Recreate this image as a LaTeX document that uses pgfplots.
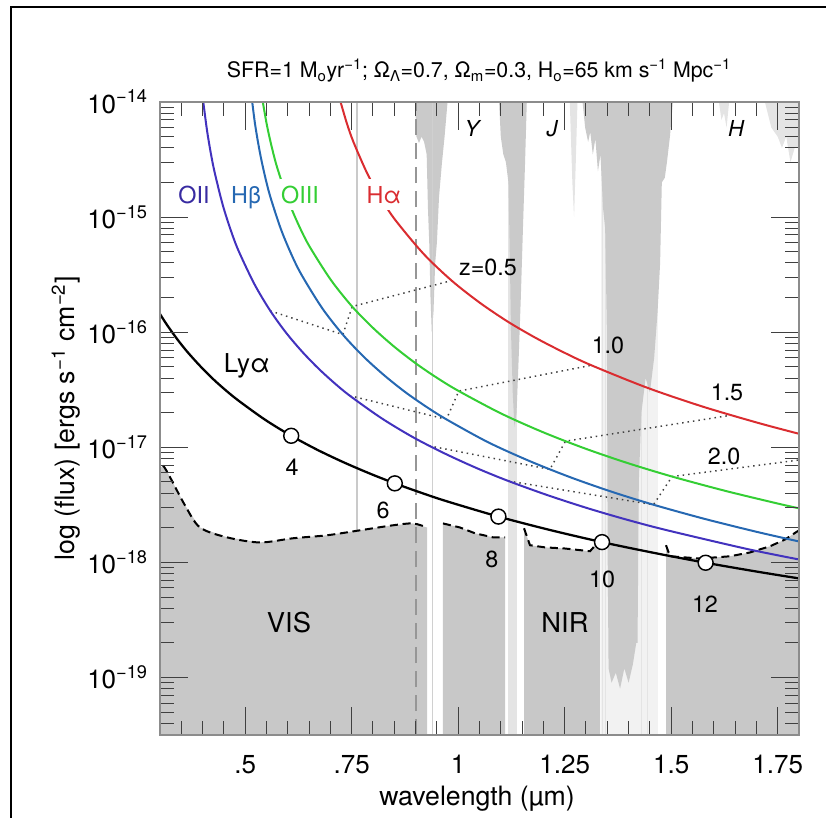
\documentclass[border=0pt]{standalone}
\usepackage{pgfplots}
\pgfplotsset{compat=1.18}
\usepackage{fontspec}
\setmainfont{TeX Gyre Heros}
\setsansfont{TeX Gyre Heros}

\definecolor{oiicol}{RGB}{66,50,190}
\definecolor{hbcol}{RGB}{38,104,178}
\definecolor{oiiicol}{RGB}{52,206,52}
\definecolor{hacol}{RGB}{218,44,48}
\definecolor{fillgray}{RGB}{200,200,200}
\definecolor{absgray}{RGB}{202,202,202}
\definecolor{faintgray}{RGB}{228,228,228}
\definecolor{palegray}{RGB}{242,242,242}
\definecolor{axisgray}{RGB}{140,140,140}
\definecolor{vlinegray}{RGB}{150,150,150}

\newcommand{\fnt}[1]{\fontsize{#1}{1.2\dimexpr #1\relax}\selectfont}

\begin{document}
\begin{tikzpicture}
\begin{axis}[
  name=ax, at={(0pt,0pt)}, anchor=south west,
  scale only axis, width=479.25pt, height=474.75pt,
  xmin=0.3, xmax=1.8, ymin=3.162e-20, ymax=1e-14,
  ymode=log,
  axis on top,
  xtick={0.5,0.75,1,1.25,1.5,1.75},
  xticklabels={.5,.75,1,1.25,1.5,1.75},
  minor xtick={0.35,0.4,0.45,0.55,0.6,0.65,0.7,0.8,0.85,0.9,0.95,1.05,1.1,1.15,1.2,1.3,1.35,1.4,1.45,1.55,1.6,1.65,1.7},
  ytick={1e-19,1e-18,1e-17,1e-16,1e-15,1e-14},
  yticklabels={10\textsuperscript{−19},10\textsuperscript{−18},10\textsuperscript{−17},10\textsuperscript{−16},10\textsuperscript{−15},10\textsuperscript{−14}},
  minor ytick={4e-20,5e-20,6e-20,7e-20,8e-20,9e-20,
    2e-19,3e-19,4e-19,5e-19,6e-19,7e-19,8e-19,9e-19,
    2e-18,3e-18,4e-18,5e-18,6e-18,7e-18,8e-18,9e-18,
    2e-17,3e-17,4e-17,5e-17,6e-17,7e-17,8e-17,9e-17,
    2e-16,3e-16,4e-16,5e-16,6e-16,7e-16,8e-16,9e-16,
    2e-15,3e-15,4e-15,5e-15,6e-15,7e-15,8e-15,9e-15},
  tick align=inside,
  major tick length=21pt, minor tick length=10.5pt,
  every tick/.style={black!75, line width=0.75pt},
  axis line style={axisgray, line width=2pt},
  xticklabel style={font=\fnt{19.5pt}, anchor=north, inner sep=0pt, yshift=-15pt},
  yticklabel style={font=\fnt{19.5pt}, anchor=base east, inner sep=0pt, xshift=-9pt, yshift=-8.25pt},
]

% faint telluric features reaching the whole height
\addplot[fill=faintgray, draw=none] coordinates {(1.117,3e-20) (1.117,1e-14) (1.138,1e-14) (1.138,3e-20)};
\addplot[fill=palegray, draw=none] coordinates {(1.335,3e-20) (1.335,1e-14) (1.468,1e-14) (1.468,3e-20)};
\addplot[faintgray, line width=0.8pt] coordinates {(1.338,3e-20) (1.338,1e-14)};
\addplot[faintgray, line width=0.8pt] coordinates {(1.346,3e-20) (1.346,1e-14)};
\addplot[faintgray, line width=0.8pt] coordinates {(1.430,3e-20) (1.430,1e-14)};
\addplot[faintgray, line width=0.8pt] coordinates {(1.445,3e-20) (1.445,1e-14)};

% atmospheric absorption hanging from the top
\addplot[fill=absgray, draw=none] coordinates {
  (0.899,1e-14) (0.902,5e-15) (0.908,4.4e-15) (0.914,5e-15) (0.920,4.5e-15) (0.926,3.5e-15)
  (0.929,1.2e-15) (0.932,6e-16) (0.935,2e-16) (0.938,1e-16) (0.942,1.5e-16) (0.946,4e-16)
  (0.950,6e-16) (0.955,1.5e-15) (0.962,3e-15) (0.968,5e-15) (0.975,1e-14)};
\addplot[fill=absgray, draw=none] coordinates {
  (1.096,1e-14) (1.100,5e-15) (1.106,3.5e-15) (1.112,3e-15) (1.118,2e-15) (1.121,5e-16)
  (1.124,1e-16) (1.128,3e-17) (1.132,1.5e-17) (1.137,2e-17) (1.142,6e-17) (1.147,2e-16)
  (1.152,8e-16) (1.157,3e-15) (1.161,1e-14)};
\addplot[fill=faintgray, draw=none] coordinates {
  (1.262,1e-14) (1.268,2e-15) (1.272,1e-15) (1.276,3e-15) (1.280,1e-14)};
\addplot[fill=absgray, draw=none] coordinates {
  (1.292,1e-14) (1.298,6e-15) (1.305,4.5e-15) (1.310,5.5e-15) (1.316,3.5e-15) (1.322,4.8e-15)
  (1.328,2.5e-15) (1.334,3.5e-15) (1.340,1.2e-15) (1.345,8e-16) (1.349,1e-16) (1.351,1e-18)
  (1.353,1.2e-19) (1.360,9e-20) (1.370,1.1e-19) (1.380,8e-20) (1.390,1.2e-19) (1.400,9e-20)
  (1.410,1.3e-19) (1.418,2e-19) (1.421,2e-19) (1.424,5e-18) (1.430,2e-17) (1.440,4e-17)
  (1.450,3e-17) (1.460,6e-17) (1.468,1.5e-16) (1.474,4e-16) (1.478,2e-15) (1.485,2.2e-15)
  (1.490,3e-15) (1.497,5e-15) (1.504,1e-14)};
\addplot[fill=faintgray, draw=none] coordinates {
  (1.612,1e-14) (1.618,7e-15) (1.624,8e-15) (1.630,6e-15) (1.636,1e-14)};
\addplot[fill=faintgray, draw=none] coordinates {
  (1.720,1e-14) (1.735,6e-15) (1.750,5e-15) (1.760,4e-15) (1.770,5e-15) (1.780,3e-15)
  (1.790,4e-15) (1.800,4e-15) (1.800,1e-14)};

% thin absorption lines
\addplot[absgray, line width=1.4pt] coordinates {(0.762,3e-20) (0.762,1e-14)};
\addplot[faintgray!80!gray, line width=1.2pt] coordinates {(0.940,3e-20) (0.940,1e-14)};

% limiting sensitivity, VIS and NIR windows
\addplot[fill=fillgray, draw=none] coordinates {
  (0.300,3e-20) (0.300,6.5e-18) (0.307,6.96e-18) (0.3188,5.94e-18) (0.3587,3.13e-18)
  (0.3939,2.01e-18) (0.4573,1.65e-18) (0.5347,1.49e-18) (0.6122,1.62e-18) (0.6920,1.72e-18)
  (0.7695,1.90e-18) (0.8469,2.10e-18) (0.8939,2.18e-18) (0.9268,2.01e-18) (0.9268,3e-20)};
\addplot[fill=fillgray, draw=none] coordinates {
  (0.9643,3e-20) (0.9643,2.18e-18) (1.0042,2.01e-18) (1.0394,1.79e-18) (1.0817,1.65e-18)
  (1.1099,1.65e-18) (1.1099,3e-20)};
\addplot[fill=fillgray, draw=none] coordinates {
  (1.1545,3e-20) (1.1545,1.98e-18) (1.1685,1.41e-18) (1.2038,1.35e-18) (1.2507,1.32e-18)
  (1.3094,1.25e-18) (1.3258,1.46e-18) (1.333,1.68e-18) (1.333,3e-20)};
\addplot[fill=fillgray, draw=none] coordinates {
  (1.4878,3e-20) (1.4878,1.41e-18) (1.4972,1.13e-18) (1.5676,1.08e-18) (1.638,1.13e-18)
  (1.685,1.22e-18) (1.7319,1.38e-18) (1.7671,1.58e-18) (1.8,1.90e-18) (1.8,3e-20)};

% VIS / NIR boundary
\addplot[vlinegray, line width=1.5pt, dash pattern=on 12pt off 6pt] coordinates {(0.9,3.162e-20) (0.9,1e-14)};

\pgfplotsset{sens/.style={black, line width=1.5pt, dash pattern=on 6pt off 3.5pt}}
\addplot[sens, smooth] coordinates {
  (0.307,6.96e-18) (0.3188,5.94e-18) (0.3587,3.13e-18) (0.3939,2.01e-18) (0.4573,1.65e-18)
  (0.5347,1.49e-18) (0.6122,1.62e-18) (0.6920,1.72e-18) (0.7695,1.90e-18) (0.8469,2.10e-18)
  (0.8939,2.18e-18) (0.9268,2.01e-18)};
\addplot[sens] coordinates {
  (0.9643,2.18e-18) (1.0042,2.01e-18) (1.0394,1.79e-18) (1.0817,1.65e-18) (1.1099,1.65e-18)};
\addplot[sens] coordinates {
  (1.1545,1.98e-18) (1.1685,1.41e-18) (1.2038,1.35e-18) (1.2507,1.32e-18) (1.3094,1.25e-18)
  (1.3258,1.46e-18) (1.333,1.68e-18)};
\addplot[sens] coordinates {
  (1.4878,1.41e-18) (1.4972,1.13e-18) (1.5676,1.08e-18) (1.638,1.13e-18) (1.685,1.22e-18)
  (1.7319,1.38e-18) (1.7671,1.58e-18) (1.8,1.90e-18)};

% lines of constant redshift
\pgfplotsset{zline/.style={black!75, line width=1.1pt, dash pattern=on 1.1pt off 3pt}}
\addplot[zline] coordinates {(0.5591,1.531e-16) (0.7292,9.53e-17) (0.7511,1.67e-16) (0.9845,2.81e-16)};
\addplot[zline] coordinates {(0.7454,2.81e-17) (0.9722,1.75e-17) (1.0014,3.08e-17) (1.3126,5.16e-17)};
\addplot[zline] coordinates {(0.9318,1.03e-17) (1.2153,6.43e-18) (1.2518,1.13e-17) (1.6408,1.90e-17)};
\addplot[zline] coordinates {(1.1181,5.09e-18) (1.4583,3.17e-18) (1.5021,5.57e-18) (1.9689,9.35e-18)};

% line fluxes for SFR = 1
\addplot[oiicol, line width=1.5pt, smooth] coordinates {
  (0.4007,1.066e-14) (0.4100,5.79e-15) (0.4193,3.59e-15) (0.4286,2.42e-15) (0.4472,1.28e-15)
  (0.4659,7.74e-16) (0.4845,5.09e-16) (0.5218,2.61e-16) (0.5591,1.531e-16) (0.5963,9.86e-17)
  (0.6336,6.78e-17) (0.6709,4.88e-17) (0.7081,3.65e-17) (0.7454,2.81e-17) (0.8199,1.79e-17)
  (0.8945,1.22e-17) (0.9690,8.81e-18) (1.0436,6.59e-18) (1.1181,5.09e-18) (1.2113,3.82e-18)
  (1.3045,2.95e-18) (1.3976,2.34e-18) (1.4908,1.90e-18) (1.6772,1.31e-18) (1.8001,1.06e-18)};
\addplot[hbcol, line width=1.5pt, smooth] coordinates {
  (0.5104,1.549e-14) (0.5226,6.64e-15) (0.5347,3.61e-15) (0.5469,2.23e-15) (0.5590,1.50e-15)
  (0.5833,7.96e-16) (0.6076,4.82e-16) (0.6319,3.17e-16) (0.6805,1.622e-16) (0.7292,9.53e-17)
  (0.7778,6.14e-17) (0.8264,4.22e-17) (0.8750,3.03e-17) (0.9236,2.27e-17) (0.9722,1.75e-17)
  (1.0694,1.11e-17) (1.1666,7.62e-18) (1.2639,5.48e-18) (1.3611,4.10e-18) (1.4583,3.17e-18)
  (1.5798,2.38e-18) (1.7014,1.84e-18) (1.8000,1.52e-18)};
\addplot[oiiicol, line width=1.5pt, smooth] coordinates {
  (0.5383,1.167e-14) (0.5508,6.34e-15) (0.5633,3.93e-15) (0.5758,2.64e-15) (0.6008,1.40e-15)
  (0.6259,8.47e-16) (0.6509,5.57e-16) (0.7010,2.85e-16) (0.7511,1.67e-16) (0.8011,1.08e-16)
  (0.8512,7.41e-17) (0.9013,5.33e-17) (0.9513,3.99e-17) (1.0014,3.08e-17) (1.1015,1.96e-17)
  (1.2017,1.34e-17) (1.3018,9.64e-18) (1.4020,7.21e-18) (1.5021,5.57e-18) (1.6273,4.18e-18)
  (1.7525,3.23e-18) (1.8000,2.95e-18)};
\addplot[hacol, line width=1.5pt, smooth] coordinates {
  (0.7219,1.064e-14) (0.7383,6.59e-15) (0.7547,4.44e-15) (0.7876,2.35e-15) (0.8204,1.42e-15)
  (0.8532,9.35e-16) (0.9188,4.79e-16) (0.9845,2.81e-16) (1.0501,1.81e-16) (1.1157,1.24e-16)
  (1.1813,8.95e-17) (1.2470,6.70e-17) (1.3126,5.16e-17) (1.4439,3.29e-17) (1.5751,2.25e-17)
  (1.7064,1.62e-17) (1.8002,1.31e-17)};
\addplot[black, line width=1.7pt, smooth] coordinates {
  (0.3000,1.439e-16) (0.3162,1.161e-16) (0.3405,8.69e-17) (0.3648,6.71e-17) (0.3952,5.04e-17)
  (0.4256,3.89e-17) (0.4560,3.09e-17) (0.4864,2.51e-17) (0.5472,1.73e-17) (0.6080,1.259e-17)
  (0.6688,9.53e-18) (0.7296,7.45e-18) (0.7904,5.96e-18) (0.8512,4.86e-18) (0.9120,4.04e-18)
  (0.9728,3.40e-18) (1.0944,2.50e-18) (1.2160,1.91e-18) (1.3376,1.50e-18) (1.4592,1.21e-18)
  (1.5808,9.93e-19) (1.7024,8.30e-19) (1.8000,7.26e-19)};
% Ly-alpha at z = 4, 6, 8, 10, 12
\addplot[only marks, mark=*, mark size=5.6pt, mark options={fill=white, draw=black, line width=1.1pt}] coordinates {
  (0.6080,1.259e-17) (0.8512,4.86e-18) (1.0944,2.50e-18) (1.3376,1.50e-18) (1.5808,9.93e-19)};

% annotations
\node[font=\fnt{17.5pt}, anchor=base, oiicol!85!black, inner sep=1pt] at (axis cs:0.3798,1.324e-15) {OII};
\node[font=\fnt{17.5pt}, anchor=base, hbcol, inner sep=1pt] at (axis cs:0.5019,1.324e-15) {Hβ};
\node[font=\fnt{17.5pt}, anchor=base, oiiicol, fill=white, inner xsep=1pt, inner ysep=5pt] at (axis cs:0.6286,1.324e-15) {OIII};
\node[font=\fnt{17.5pt}, anchor=base, hacol, fill=white, inner xsep=2pt, inner ysep=5pt] at (axis cs:0.8258,1.324e-15) {Hα};
\node[font=\fnt{19.5pt}, anchor=base] at (axis cs:0.5042,4.49e-17) {Lyα};

\node[font=\fnt{17.5pt}, anchor=base] at (axis cs:0.6099,5.71e-18) {4};
\node[font=\fnt{17.5pt}, anchor=base] at (axis cs:0.8235,2.42e-18) {6};
\node[font=\fnt{17.5pt}, anchor=base] at (axis cs:1.0793,9.06e-19) {8};
\node[font=\fnt{17.5pt}, anchor=base] at (axis cs:1.3376,6.07e-19) {10};
\node[font=\fnt{17.5pt}, anchor=base] at (axis cs:1.5793,3.67e-19) {12};

\node[font=\fnt{17.5pt}, anchor=base] at (axis cs:1.070,3.13e-16) {z=0.5};
\node[font=\fnt{17.5pt}, anchor=base] at (axis cs:1.3516,6.56e-17) {1.0};
\node[font=\fnt{17.5pt}, anchor=base] at (axis cs:1.631,2.56e-17) {1.5};
\node[font=\fnt{17.5pt}, anchor=base] at (axis cs:1.624,7.11e-18) {2.0};

\node[font=\fnt{20.5pt}, anchor=base] at (axis cs:0.6028,2.46e-19) {VIS};
\node[font=\fnt{20.5pt}, anchor=base] at (axis cs:1.2507,2.46e-19) {NIR};

\node[font=\fnt{16.5pt}\itshape, anchor=base] at (axis cs:1.0324,4.97e-15) {Y};
\node[font=\fnt{16.5pt}\itshape, anchor=base] at (axis cs:1.2202,4.97e-15) {J};
\node[font=\fnt{16.5pt}\itshape, anchor=base] at (axis cs:1.6521,4.97e-15) {H};
\end{axis}

% title and axis labels
\node[font=\fnt{16pt}, anchor=base] at (239.25pt,492.75pt)
  {SFR=1 M\textsubscript{o}yr\textsuperscript{−1}; Ω\textsubscript{Λ}=0.7, Ω\textsubscript{m}=0.3, H\textsubscript{o}=65 km s\textsuperscript{−1} Mpc\textsuperscript{−1}};
\node[font=\fnt{20pt}, anchor=base] at (237.75pt,-53.25pt) {wavelength (µm)};
\node[font=\fnt{20pt}, anchor=base, rotate=90] at (-63.75pt,237.4pt)
  {log (flux) [ergs s\textsuperscript{−1} cm\textsuperscript{−2}]};

% frame
\draw[black, line width=1.6pt] (-111.75pt,-70pt) -- (-111.75pt,546pt) -- (510pt,546pt);

\pgfresetboundingbox
\useasboundingbox (-120pt,-62.25pt) rectangle (499.5pt,551.25pt);
\end{tikzpicture}
\end{document}
